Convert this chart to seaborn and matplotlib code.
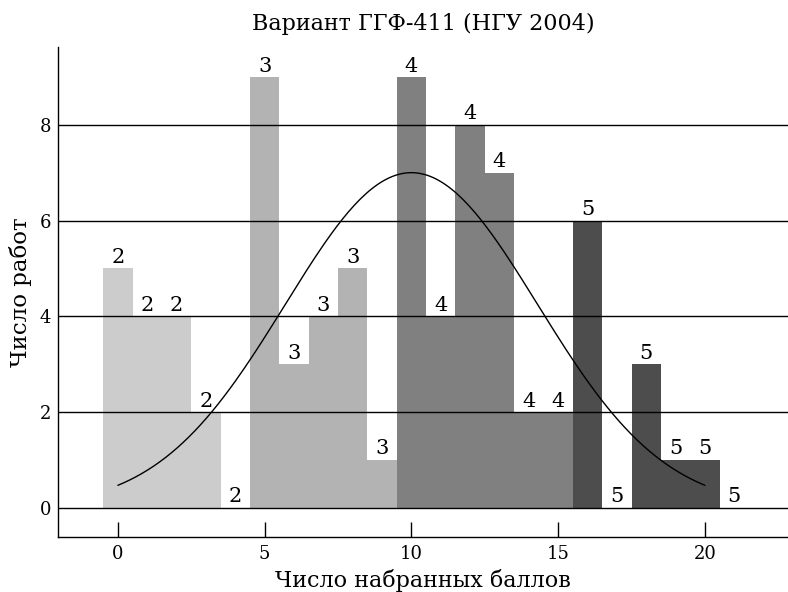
import numpy as np
import pandas as pd
import seaborn as sns
import matplotlib.pyplot as plt

# --- data ---
scores = list(range(22))
counts = [5, 4, 4, 2, 0, 9, 3, 4, 5, 1, 9, 4, 8, 7, 2, 2, 6, 0, 3, 1, 1, 0]
grades = [2, 2, 2, 2, 2, 3, 3, 3, 3, 3, 4, 4, 4, 4, 4, 4, 5, 5, 5, 5, 5, 5]
grade_colors = {2: '#cccccc', 3: '#b3b3b3', 4: '#808080', 5: '#4d4d4d'}

# normal curve drawn over the histogram
curve_mu = 10
curve_sigma = 4.3
curve_peak = 7
curve_from, curve_to = 0, 20

y_ticks = [0, 2, 4, 6, 8]
x_ticks = [0, 5, 10, 15, 20]

title = 'Вариант ГГФ-411 (НГУ 2004)'
x_label = 'Число набранных баллов'
y_label = 'Число работ'

df = pd.DataFrame({'score': scores, 'count': counts, 'grade': grades})

sns.set_theme(style='white')
plt.rcParams['font.family'] = ['DejaVu Serif']
plt.rcParams['text.color'] = 'black'
plt.rcParams['axes.labelcolor'] = 'black'
plt.rcParams['xtick.color'] = 'black'
plt.rcParams['ytick.color'] = 'black'

fig = plt.figure(figsize=(7.88, 5.92), dpi=100)
ax = fig.add_axes([0.074, 0.093, 0.926, 0.828])

sns.barplot(data=df, x='score', y='count', hue='grade', palette=grade_colors,
            native_scale=True, width=1, dodge=False, legend=False,
            linewidth=0, saturation=1, ax=ax, zorder=1)

# grade labels above every bar
for s, c, g in zip(scores, counts, grades):
    ax.annotate(str(g), (s, c), xytext=(0, 1), textcoords='offset points',
                ha='center', va='bottom', fontsize=15, color='black')

# horizontal reference lines over the bars
for yv in y_ticks:
    ax.axhline(yv, color='black', lw=1, zorder=3)

xs = np.linspace(curve_from, curve_to, 200)
ys = curve_peak * np.exp(-(xs - curve_mu) ** 2 / (2 * curve_sigma ** 2))
sns.lineplot(x=xs, y=ys, color='black', lw=1, ax=ax, zorder=4)

ax.set_xlim(-2.03, 22.83)
ax.set_ylim(-0.61, 9.63)
ax.set_xticks(x_ticks)
ax.set_yticks(y_ticks)
ax.tick_params(axis='x', direction='in', length=11, width=1, color='black',
               labelsize=13, pad=6, bottom=True)
ax.tick_params(axis='y', length=0, labelsize=13, pad=5)

for side in ['top', 'right']:
    ax.spines[side].set_visible(False)
for side in ['left', 'bottom']:
    ax.spines[side].set_color('black')
    ax.spines[side].set_linewidth(1)

ax.set_title(title, fontsize=16, pad=12, color='black')
ax.set_xlabel(x_label, fontsize=16, labelpad=4)
ax.set_ylabel(y_label, fontsize=16.5, labelpad=6)

plt.savefig('out.png', dpi=100)
